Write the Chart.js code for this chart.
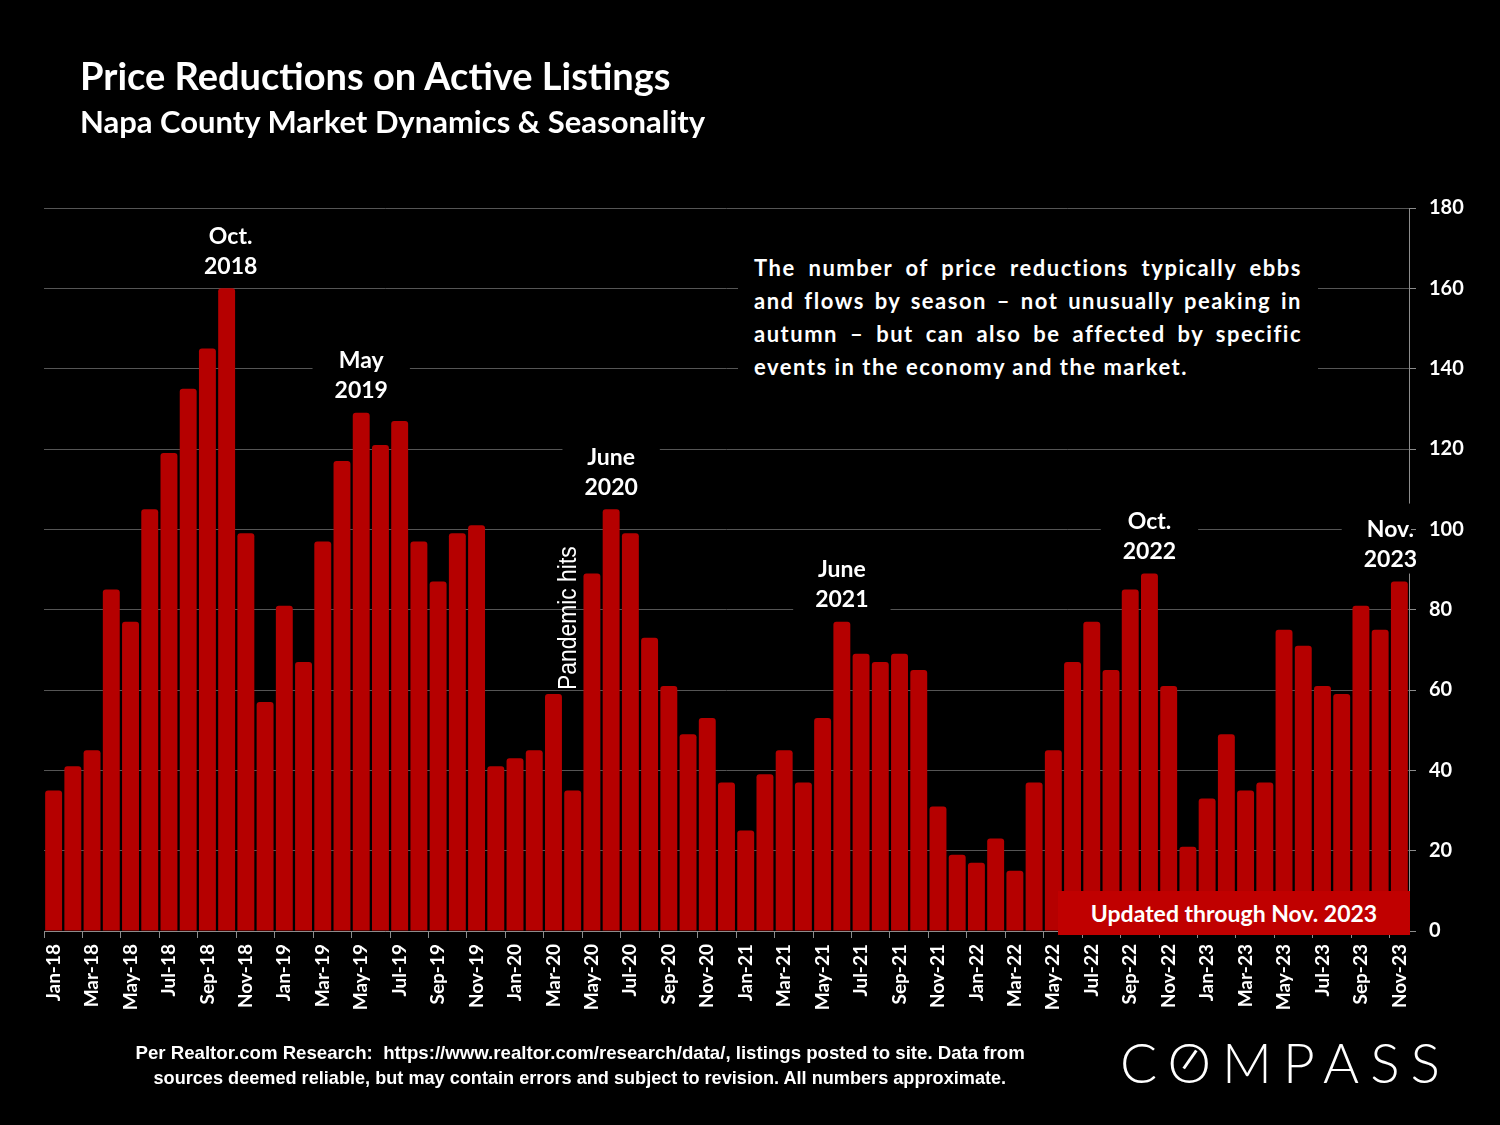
<!DOCTYPE html>
<html>
<head>
<meta charset="utf-8">
<script src="https://cdn.jsdelivr.net/npm/chart.js@4.4.1/dist/chart.umd.min.js"></script>
<style>
    html, body { margin: 0; padding: 0; background: #000; }
    #wrap { position: relative; width: 1500px; height: 1125px; background: #000; overflow: hidden; }
    #chart { position: absolute; left: 0; top: 0; }
    .txt { position: absolute; color: #fff; font-family: Lato, 'Open Sans', sans-serif; font-weight: bold; white-space: nowrap; }
    #title { left: 80px; top: 51px; font-size: 38px; line-height: 48px; }
    #subtitle { left: 80px; top: 102px; font-size: 31px; line-height: 38px; }
    #note { left: 738px; top: 251px; width: 548px; padding: 0 16px 6px 16px; background: #000;
            font-size: 22px; line-height: 33px; letter-spacing: 1.5px; white-space: normal; }
    #note span { display: block; text-align: justify; text-align-last: justify; }
    #note span.last { text-align-last: left; }
    #updated { left: 1058px; top: 891px; width: 352px; height: 44px; background: #c00000;
               font-size: 23px; line-height: 44px; text-align: center; }
    #footer { left: 80px; top: 1040px; width: 1000px; text-align: center; font-family: 'Liberation Sans', sans-serif;
              font-weight: bold; font-size: 19px; line-height: 25px; }
    #footer span { display: inline-block; transform-origin: center; }
    #logo { left: 1120px; top: 1030px; font-size: 55px; line-height: 64px; font-weight: 300; letter-spacing: 11px; }
    #logo .o { position: relative; }
    #logo .o::after { content: ''; position: absolute; left: 50%; top: 50%; width: 22px; height: 3px; background: #fff;
                      margin-left: -16px; margin-top: -4px; transform: rotate(-55deg); }
</style>
</head>
<body>
<div id="wrap">
    <canvas id="chart" width="1500" height="1125"></canvas>
    <div class="txt" id="title">Price Reductions on Active Listings</div>
    <div class="txt" id="subtitle">Napa County Market Dynamics &amp; Seasonality</div>
    <div class="txt" id="note">
        <span>The number of price reductions typically ebbs</span>
        <span>and flows by season – not unusually peaking in</span>
        <span>autumn – but can also be affected by specific</span>
        <span class="last">events in the economy and the market.</span>
    </div>
    <div class="txt" id="updated">Updated through Nov. 2023</div>
    <div class="txt" id="footer"><span>Per Realtor.com Research:&nbsp; https://www.realtor.com/research/data/, listings posted to site. Data from</span><br><span>sources deemed reliable, but may contain errors and subject to revision. All numbers approximate.</span></div>
    <div class="txt" id="logo">C<span class="o">O</span>MPASS</div>
</div>

<script>
// Monthly categories, Jan-18 .. Nov-23
const monthNames = ['Jan', 'Feb', 'Mar', 'Apr', 'May', 'Jun', 'Jul', 'Aug', 'Sep', 'Oct', 'Nov', 'Dec'];
const years = ['18', '19', '20', '21', '22', '23'];

// Price reductions per month
const reductions2018 = [35, 41, 45, 85, 77, 105, 119, 135, 145, 160, 99, 57];
const reductions2019 = [81, 67, 97, 117, 129, 121, 127, 97, 87, 99, 101, 41];
const reductions2020 = [43, 45, 59, 35, 89, 105, 99, 73, 61, 49, 53, 37];
const reductions2021 = [25, 39, 45, 37, 53, 77, 69, 67, 69, 65, 31, 19];
const reductions2022 = [17, 23, 15, 37, 45, 67, 77, 65, 85, 89, 61, 21];
const reductions2023 = [33, 49, 35, 37, 75, 71, 61, 59, 81, 75, 87];

// Y axis ticks
const yTicks = [0, 20, 40, 60, 80, 100, 120, 140, 160, 180];

// Callouts: bar index -> text lines
const callouts = [
    { index: 9, lines: ['Oct.', '2018'], shift: 4 },
    { index: 16, lines: ['May', '2019'] },
    { index: 29, lines: ['June', '2020'] },
    { index: 41, lines: ['June', '2021'] },
    { index: 57, lines: ['Oct.', '2022'] },
    { index: 70, lines: ['Nov.', '2023'], shift: -9 }
];

const values = [].concat(reductions2018, reductions2019, reductions2020,
    reductions2021, reductions2022, reductions2023);
const labels = [];
years.forEach(y => monthNames.forEach(m => labels.push(m + '-' + y)));
labels.length = values.length;

// Draws the callout labels and the "Pandemic hits" note on top of the bars
const calloutPlugin = {
    id: 'callouts',
    afterDatasetsDraw(chart) {
        const ctx = chart.ctx;
        const area = chart.chartArea;
        const x = chart.scales.x;
        const y = chart.scales.y;
        ctx.save();
        ctx.font = 'bold 23px Lato, sans-serif';
        ctx.textAlign = 'center';
        ctx.textBaseline = 'middle';
        callouts.forEach(c => {
            const cx = x.getPixelForValue(c.index) + (c.shift || 0);
            const top = y.getPixelForValue(values[c.index]);
            const w = Math.max(...c.lines.map(l => ctx.measureText(l).width)) + 44;
            // black backing box, kept inside the plot so the tick labels stay visible
            ctx.save();
            ctx.beginPath();
            ctx.rect(0, 0, area.right + 2, chart.height);
            ctx.clip();
            ctx.fillStyle = '#000';
            ctx.fillRect(cx - w / 2, top - 78, w, 70);
            ctx.restore();
            ctx.fillStyle = '#fff';
            ctx.fillText(c.lines[0], cx, top - 52);
            ctx.fillText(c.lines[1], cx, top - 22);
        });
        ctx.restore();

        // Pandemic hits, vertical and condensed
        ctx.save();
        const px = x.getPixelForValue(27) + 3;
        const py = y.getPixelForValue(60);
        ctx.translate(px, py);
        ctx.rotate(-Math.PI / 2);
        ctx.scale(0.88, 1);
        ctx.font = '26px "Liberation Sans", sans-serif';
        ctx.textAlign = 'left';
        ctx.fillStyle = '#fff';
        ctx.fillText('Pandemic hits', 0, 0);
        ctx.restore();
    }
};

function plotReductionsChart() {
    const ctx = document.getElementById('chart').getContext('2d');
    const reductionsChart = new Chart(ctx, {
        type: 'bar',
        data: {
            labels: labels,
            datasets: [{
                data: values,
                backgroundColor: '#b50000',
                borderRadius: { topLeft: 3, topRight: 3 },
                borderSkipped: 'bottom',
                barPercentage: 0.88,
                categoryPercentage: 1.0
            }]
        },
        options: {
            responsive: false,
            devicePixelRatio: 1,
            animation: false,
            layout: {
                padding: { left: 44, top: 208, right: 31, bottom: 104 }
            },
            plugins: {
                legend: { display: false },
                tooltip: { enabled: false }
            },
            scales: {
                x: {
                    grid: {
                        drawOnChartArea: false,
                        tickLength: 7,
                        color: c => (c.index % 2 === 0 ? '#8c8c8c' : 'rgba(0,0,0,0)')
                    },
                    border: { color: '#8c8c8c' },
                    ticks: {
                        autoSkip: false,
                        maxRotation: 90,
                        minRotation: 90,
                        padding: 6,
                        color: '#fff',
                        font: { family: 'Lato, sans-serif', weight: 'bold', size: 19 },
                        callback: function (val, index) {
                            return index % 2 === 0 ? this.getLabelForValue(val) : '';
                        }
                    },
                    afterFit: scale => { scale.height = 90; }
                },
                y: {
                    position: 'right',
                    min: 0,
                    max: 180,
                    afterBuildTicks: scale => { scale.ticks = yTicks.map(v => ({ value: v })); },
                    grid: { color: '#555', tickColor: '#8c8c8c', tickLength: 7, lineWidth: 1 },
                    border: { color: '#8c8c8c' },
                    ticks: {
                        padding: 13,
                        color: '#fff',
                        font: { family: 'Lato, sans-serif', weight: 'bold', size: 20 }
                    },
                    afterFit: scale => { scale.width = 60; }
                }
            }
        },
        plugins: [calloutPlugin]
    });
}

// Squeeze the footer lines to the width they take in the original
function fitFooter() {
    const targets = [889, 853];
    document.querySelectorAll('#footer span').forEach((s, i) => {
        s.style.transform = 'scaleX(' + (targets[i] / s.offsetWidth) + ')';
    });
}

plotReductionsChart();
fitFooter();
</script>
</body>
</html>
